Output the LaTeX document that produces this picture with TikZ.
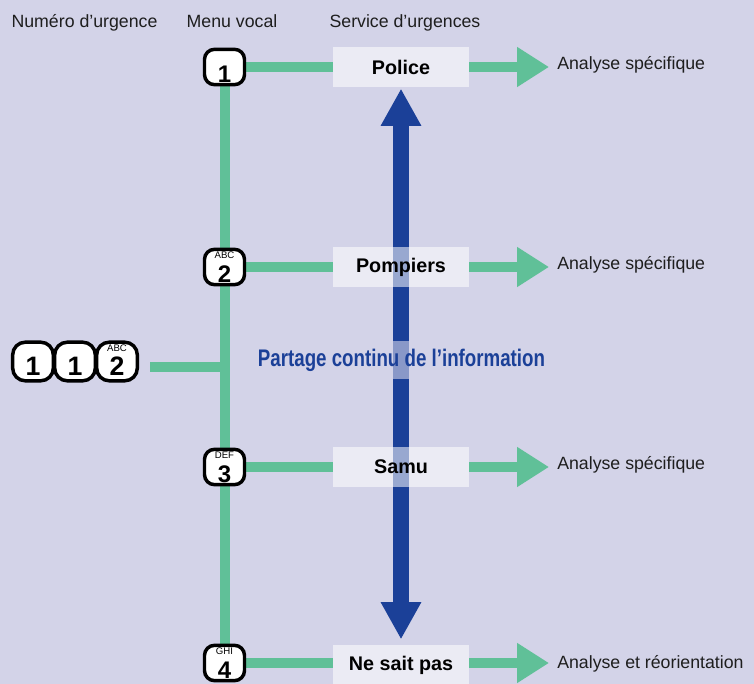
\documentclass[tikz,border=0pt]{standalone}
\usepackage{fontspec}
\setmainfont{Liberation Sans}
\newfontfamily\condfont[FakeStretch=0.78]{Liberation Sans}
\usetikzlibrary{arrows.meta}
\usetikzlibrary{positioning}
\usetikzlibrary{backgrounds}

\definecolor{fond}{RGB}{211,211,232}
\definecolor{vert}{RGB}{96,192,152}
\definecolor{bleu}{RGB}{27,64,152}
\definecolor{texte}{RGB}{30,30,30}

\begin{document}
\begin{tikzpicture}[x=0.75pt,y=-0.75pt]
    \tikzstyle{titre}=[font=\fontsize{13.3}{15}\selectfont, text=texte, inner sep=0pt, anchor=base]
    \tikzstyle{touche}=[draw=black, fill=white, line width=2.6pt, rounded corners=7.5pt, minimum width=30pt, minimum height=26.5pt, inner sep=0pt]
    \tikzstyle{grande touche}=[touche, rounded corners=9.5pt, minimum width=30.5pt, minimum height=29pt]
    \tikzstyle{chiffre}=[font=\bfseries\fontsize{18}{18}\selectfont, inner sep=0pt]
    \tikzstyle{grand chiffre}=[font=\bfseries\fontsize{20}{20}\selectfont, inner sep=0pt]
    \tikzstyle{lettres}=[font=\fontsize{7.2}{8}\selectfont, inner sep=0pt]
    \tikzstyle{service}=[fill=white, fill opacity=0.55, text opacity=1, minimum width=102pt, minimum height=30pt, inner sep=0pt, font=\bfseries\fontsize{14.8}{15}\selectfont]
    \tikzstyle{resultat}=[titre, anchor=base west, inner xsep=6pt]
    \tikzstyle{liaison}=[draw=vert, line width=7.5pt]
    \tikzstyle{sortie}=[liaison, -{Triangle[length=24pt,width=28.5pt]}]
    \tikzstyle{partage}=[bleu, line width=12pt, {Triangle[length=28pt,width=28.5pt]}-{Triangle[length=28pt,width=28.5pt]}]

\useasboundingbox (0,0) rectangle (754,684);
\clip (0,0) rectangle (754,684);

% Titres
\node[titre] (t-num) at (84.5,28) {Numéro d’urgence};
\node[titre] (t-menu) at (232,28) {Menu vocal};
\node[titre] (t-serv) at (405,28) {Service d’urgences};

% Numero 112
\node[grande touche] (m1) at (33,361.5) {};
\node[grande touche] (m2) at (75,361.5) {};
\node[grande touche] (m3) at (117,361.5) {};
\node[grand chiffre] (m1-c) at ([yshift=-3.6pt]m1.center) {1};
\node[grand chiffre] (m2-c) at ([yshift=-3.6pt]m2.center) {1};
\node[grand chiffre] (m3-c) at ([yshift=-3.6pt]m3.center) {2};
\node[lettres] (m3-l) at ([yshift=10pt]m3.center) {ABC};

% Menu vocal
\node[touche] (k1) at (224.5,67) {};
\node[touche] (k2) at (224.5,267) {};
\node[touche] (k3) at (224.5,467) {};
\node[touche] (k4) at (224.5,663) {};
\node[chiffre] (k1-c) at ([yshift=-5.2pt]k1.center) {1};
\node[chiffre] (k2-c) at ([yshift=-5.2pt]k2.center) {2};
\node[chiffre] (k3-c) at ([yshift=-5.2pt]k3.center) {3};
\node[chiffre] (k4-c) at ([yshift=-5.2pt]k4.center) {4};
\node[lettres] (k2-l) at ([yshift=9pt]k2.center) {ABC};
\node[lettres] (k3-l) at ([yshift=9pt]k3.center) {DEF};
\node[lettres] (k4-l) at ([yshift=9pt]k4.center) {GHI};
\coordinate (j) at (224.5,367.5);

% Services
\node[service] (s1) at (401,67) {Police};
\node[service] (s2) at (401,267) {Pompiers};
\node[service] (s3) at (401,467) {Samu};
\node[service] (s4) at (401,665) {Ne sait pas};

% Analyse
\node[resultat] (r1) at (549,69.5) {Analyse spécifique};
\node[resultat] (r2) at (549,269.5) {Analyse spécifique};
\node[resultat] (r3) at (549,469.5) {Analyse spécifique};
\node[resultat] (r4) at (549,668) {Analyse et réorientation};

\node[fill=fond, fill opacity=0.6, text opacity=1, text=bleu, inner xsep=2pt, minimum height=28pt,
      font=\condfont\bfseries\fontsize{18}{18}\selectfont] (info) at (401.5,360) {Partage continu de l’information};

% Liaisons
\begin{pgfonlayer}{background}
 \fill[fond] (0,0) rectangle (754,684);
 \draw[liaison] (k1) -- (k4);
 \draw[liaison, shorten <=8.25pt] (m3.east |- j) -- (j);
 \draw[liaison] (k1) -- (s1);
 \draw[liaison] (k2) -- (s2);
 \draw[liaison] (k3) -- (s3);
 \draw[liaison] (k4) -- (k4 -| s4.west);
 \draw[sortie] (s1.east) -- (s1.east -| r1.west);
 \draw[sortie] (s2.east) -- (s2.east -| r2.west);
 \draw[sortie] (s3.east) -- (s3.east -| r3.west);
 \draw[sortie] (k4 -| s4.east) -- (k4 -| r4.west);
 \draw[partage, shorten <=1pt, shorten >=4pt] (s1.south) -- (s4.north);
\end{pgfonlayer}

\end{tikzpicture}
\end{document}
